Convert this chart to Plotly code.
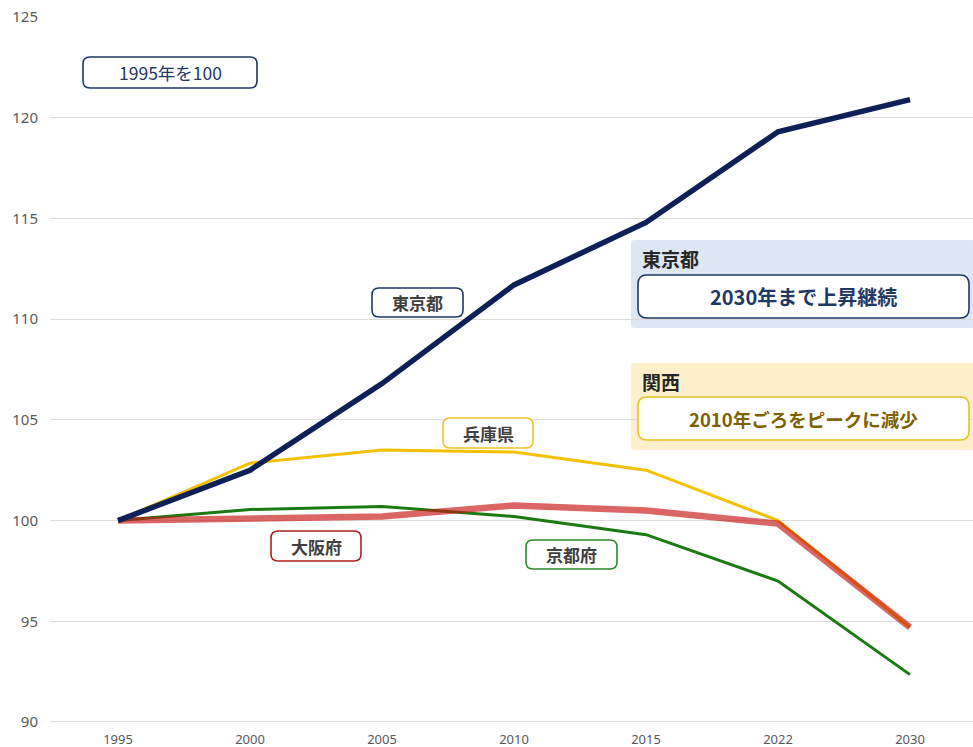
import plotly.graph_objects as go

years = ["1995", "2000", "2005", "2010", "2015", "2022", "2030"]
tokyo = [100.0, 102.5, 106.8, 111.7, 114.8, 119.3, 120.9]
hyogo = [100.0, 102.85, 103.5, 103.4, 102.5, 100.0, 94.7]
kyoto = [100.0, 100.55, 100.7, 100.2, 99.3, 97.0, 92.35]
osaka = [100.0, 100.1, 100.2, 100.75, 100.5, 99.85, 94.7]
y_ticks = [90, 95, 100, 105, 110, 115, 120, 125]

FIG_W, FIG_H = 973, 747
L, R, T, B = 50, 0, 17, 23
PW = FIG_W - L - R
PH = FIG_H - T - B
JP = "Noto Sans CJK JP"


def px(x):
    return (x - L) / PW


def py(y):
    return (FIG_H - B - y) / PH


def rrect(x0, y0, x1, y1, r):
    rx, ry = r / PW, r / PH
    X0, X1 = px(x0), px(x1)
    Y0, Y1 = py(y0), py(y1)
    return (f"M {X0+rx},{Y0} L {X1-rx},{Y0} Q {X1},{Y0} {X1},{Y0-ry} "
            f"L {X1},{Y1+ry} Q {X1},{Y1} {X1-rx},{Y1} L {X0+rx},{Y1} "
            f"Q {X0},{Y1} {X0},{Y1+ry} L {X0},{Y0-ry} Q {X0},{Y0} {X0+rx},{Y0} Z")


fig = go.Figure()
fig.add_trace(go.Scatter(x=years, y=hyogo, mode="lines", name="兵庫県",
                         line=dict(color="#F5C000", width=3)))
fig.add_trace(go.Scatter(x=years, y=kyoto, mode="lines", name="京都府",
                         line=dict(color="#1B7A12", width=3)))
fig.add_trace(go.Scatter(x=years, y=osaka, mode="lines", name="大阪府",
                         line=dict(color="rgba(200,20,20,0.65)", width=6.5)))
fig.add_trace(go.Scatter(x=years, y=tokyo, mode="lines", name="東京都",
                         line=dict(color="#0D2158", width=5.5)))

shapes = []
annotations = []

shapes.append(dict(type="path", xref="paper", yref="paper",
                   path=rrect(631, 240, 975, 328, 4),
                   fillcolor="#DDE7F3", line=dict(width=0), layer="below"))
shapes.append(dict(type="path", xref="paper", yref="paper",
                   path=rrect(631, 363, 975, 450, 4),
                   fillcolor="#FCEFC9", line=dict(width=0), layer="below"))


def box(x0, y0, x1, y1, border, text, color, size, bold=True, r=7, lw=1.6):
    shapes.append(dict(type="path", xref="paper", yref="paper",
                       path=rrect(x0, y0, x1, y1, r), fillcolor="white",
                       line=dict(color=border, width=lw), layer="above"))
    t = f"<b>{text}</b>" if bold else text
    annotations.append(dict(xref="paper", yref="paper",
                            x=px((x0 + x1) / 2), y=py((y0 + y1) / 2),
                            text=t, showarrow=False, xanchor="center", yanchor="middle",
                            font=dict(family=JP, size=size, color=color)))


box(83, 57, 257, 88, "#1F3864", "1995年を100", "#1F3864", 17.5, bold=False)
box(372, 288, 463, 317, "#1F3864", "東京都", "#404040", 17)
box(443, 418, 533, 448, "#EFC22A", "兵庫県", "#404040", 17)
box(271, 531, 361, 561, "#B01E1E", "大阪府", "#404040", 17)
box(526, 540, 617, 569, "#2A8A2A", "京都府", "#404040", 17)
box(638, 275, 969, 318, "#1F3864", "2030年まで上昇継続", "#1F3864", 20, r=9)
box(638, 397, 969, 440, "#E8C020", "2010年ごろをピークに減少", "#7F6000", 18.5, r=9)

annotations.append(dict(xref="paper", yref="paper", x=px(640), y=py(258),
                        text="<b>東京都</b>", showarrow=False, xanchor="left",
                        yanchor="middle", font=dict(family=JP, size=19, color="#262626")))
annotations.append(dict(xref="paper", yref="paper", x=px(640), y=py(381),
                        text="<b>関西</b>", showarrow=False, xanchor="left",
                        yanchor="middle", font=dict(family=JP, size=19, color="#262626")))

x_lo = -(118 - L) / 132
x_hi = 6 + (FIG_W - R - 910) / 132

fig.update_layout(
    width=FIG_W, height=FIG_H,
    margin=dict(l=L, r=R, t=T, b=B),
    paper_bgcolor="white", plot_bgcolor="white",
    showlegend=False,
    shapes=shapes, annotations=annotations,
    xaxis=dict(type="category", range=[x_lo, x_hi], showgrid=False, zeroline=False,
               showline=False, ticks="outside", ticklen=3, tickcolor="rgba(0,0,0,0)",
               automargin=False,
               tickfont=dict(family="Noto Sans", size=13, color="#595959")),
    yaxis=dict(range=[89.9, 125], tickvals=y_ticks, showgrid=True, gridcolor="#DCDCDC",
               gridwidth=1, zeroline=False, showline=False, ticks="", automargin=False,
               ticklabelstandoff=11,
               tickfont=dict(family="Noto Sans", size=15, color="#595959")),
)

fig.write_html("out.html")
